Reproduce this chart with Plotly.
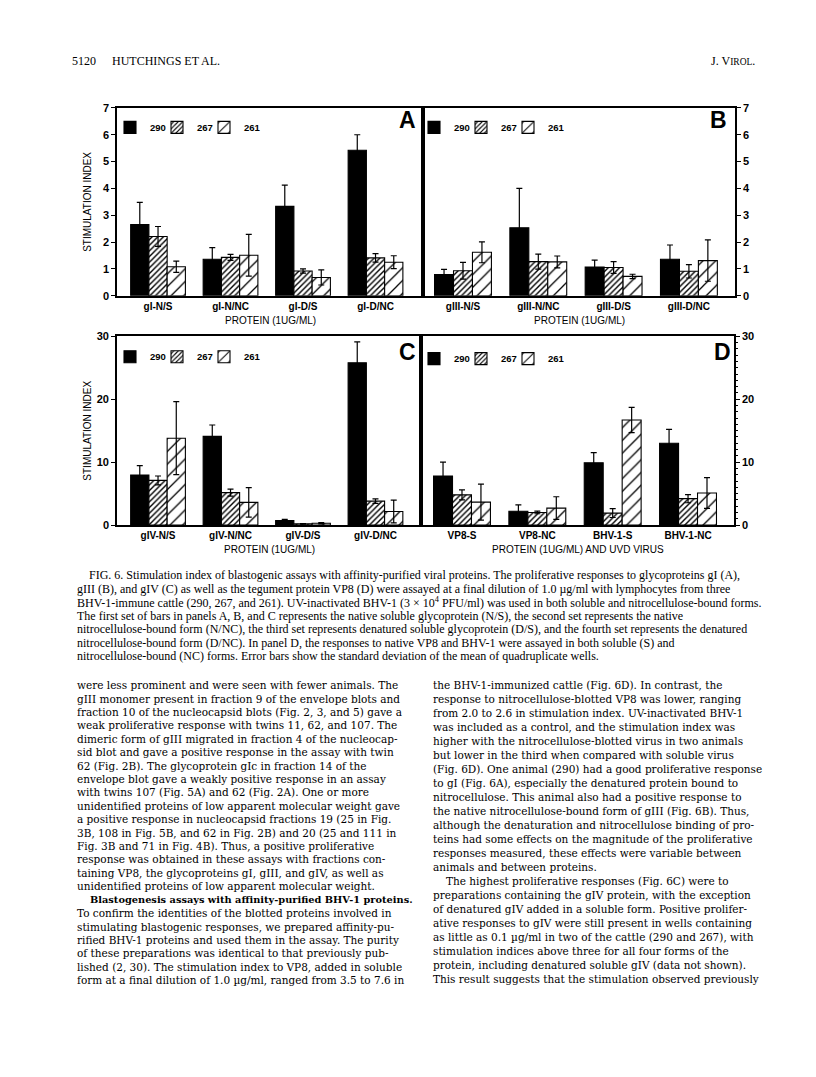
import plotly.graph_objects as go

# ---------------- data ----------------
animals = ["290", "267", "261"]

cats_A = ["gI-N/S", "gI-N/NC", "gI-D/S", "gI-D/NC"]
A_290 = [2.65, 1.36, 3.33, 5.42]
A_290_sd = [0.83, 0.43, 0.79, 0.58]
A_267 = [2.21, 1.43, 0.92, 1.41]
A_267_sd = [0.37, 0.11, 0.08, 0.16]
A_261 = [1.08, 1.51, 0.68, 1.25]
A_261_sd = [0.21, 0.78, 0.28, 0.24]

cats_B = ["gIII-N/S", "gIII-N/NC", "gIII-D/S", "gIII-D/NC"]
B_290 = [0.79, 2.53, 1.07, 1.36]
B_290_sd = [0.19, 1.47, 0.26, 0.53]
B_267 = [0.93, 1.27, 1.05, 0.91]
B_267_sd = [0.31, 0.28, 0.22, 0.25]
B_261 = [1.62, 1.26, 0.72, 1.31]
B_261_sd = [0.39, 0.22, 0.08, 0.77]

cats_C = ["gIV-N/S", "gIV-N/NC", "gIV-D/S", "gIV-D/NC"]
C_290 = [7.95, 14.1, 0.7, 25.8]
C_290_sd = [1.5, 1.8, 0.2, 3.3]
C_267 = [7.1, 5.15, 0.2, 3.8]
C_267_sd = [0.7, 0.55, 0.05, 0.35]
C_261 = [13.8, 3.6, 0.3, 2.15]
C_261_sd = [5.8, 2.35, 0.1, 1.8]

cats_D = ["VP8-S", "VP8-NC", "BHV-1-S", "BHV-1-NC"]
D_290 = [7.8, 2.2, 9.9, 13.0]
D_290_sd = [2.2, 1.0, 1.6, 2.2]
D_267 = [4.8, 2.0, 1.9, 4.2]
D_267_sd = [0.8, 0.2, 0.7, 0.65]
D_261 = [3.65, 2.7, 16.7, 5.1]
D_261_sd = [2.85, 1.8, 2.0, 2.45]

panel_letters = ["A", "B", "C", "D"]
x_titles = ["PROTEIN (1UG/ML)", "PROTEIN (1UG/ML)", "PROTEIN (1UG/ML)",
            "PROTEIN (1UG/ML) AND UVD VIRUS"]
y_title = "STIMULATION INDEX"

header_num = "5120"
header_left = "HUTCHINGS ET AL."
header_right = "J. V<span style='font-size:9.5px'>IROL</span>."

caption_lines = [
    "FIG. 6. Stimulation index of blastogenic assays with affinity-purified viral proteins. The proliferative responses to glycoproteins gI (A),",
    "gIII (B), and gIV (C) as well as the tegument protein VP8 (D) were assayed at a final dilution of 1.0 \u00b5g/ml with lymphocytes from three",
    "BHV-1-immune cattle (290, 267, and 261). UV-inactivated BHV-1 (3 \u00d7 10<sup>4</sup> PFU/ml) was used in both soluble and nitrocellulose-bound forms.",
    "The first set of bars in panels A, B, and C represents the native soluble glycoprotein (N/S), the second set represents the native",
    "nitrocellulose-bound form (N/NC), the third set represents denatured soluble glycoprotein (D/S), and the fourth set represents the denatured",
    "nitrocellulose-bound form (D/NC). In panel D, the responses to native VP8 and BHV-1 were assayed in both soluble (S) and",
    "nitrocellulose-bound (NC) forms. Error bars show the standard deviation of the mean of quadruplicate wells.",
]

left_col = [
    "were less prominent and were seen with fewer animals. The",
    "gIII monomer present in fraction 9 of the envelope blots and",
    "fraction 10 of the nucleocapsid blots (Fig. 2, 3, and 5) gave a",
    "weak proliferative response with twins 11, 62, and 107. The",
    "dimeric form of gIII migrated in fraction 4 of the nucleocap-",
    "sid blot and gave a positive response in the assay with twin",
    "62 (Fig. 2B). The glycoprotein gIc in fraction 14 of the",
    "envelope blot gave a weakly positive response in an assay",
    "with twins 107 (Fig. 5A) and 62 (Fig. 2A). One or more",
    "unidentified proteins of low apparent molecular weight gave",
    "a positive response in nucleocapsid fractions 19 (25 in Fig.",
    "3B, 108 in Fig. 5B, and 62 in Fig. 2B) and 20 (25 and 111 in",
    "Fig. 3B and 71 in Fig. 4B). Thus, a positive proliferative",
    "response was obtained in these assays with fractions con-",
    "taining VP8, the glycoproteins gI, gIII, and gIV, as well as",
    "unidentified proteins of low apparent molecular weight.",
    "<b>Blastogenesis assays with affinity-purified BHV-1 proteins.</b>",
    "To confirm the identities of the blotted proteins involved in",
    "stimulating blastogenic responses, we prepared affinity-pu-",
    "rified BHV-1 proteins and used them in the assay. The purity",
    "of these preparations was identical to that previously pub-",
    "lished (2, 30). The stimulation index to VP8, added in soluble",
    "form at a final dilution of 1.0 \u00b5g/ml, ranged from 3.5 to 7.6 in",
]
left_indent = [16]

right_col = [
    "the BHV-1-immunized cattle (Fig. 6D). In contrast, the",
    "response to nitrocellulose-blotted VP8 was lower, ranging",
    "from 2.0 to 2.6 in stimulation index. UV-inactivated BHV-1",
    "was included as a control, and the stimulation index was",
    "higher with the nitrocellulose-blotted virus in two animals",
    "but lower in the third when compared with soluble virus",
    "(Fig. 6D). One animal (290) had a good proliferative response",
    "to gI (Fig. 6A), especially the denatured protein bound to",
    "nitrocellulose. This animal also had a positive response to",
    "the native nitrocellulose-bound form of gIII (Fig. 6B). Thus,",
    "although the denaturation and nitrocellulose binding of pro-",
    "teins had some effects on the magnitude of the proliferative",
    "responses measured, these effects were variable between",
    "animals and between proteins.",
    "The highest proliferative responses (Fig. 6C) were to",
    "preparations containing the gIV protein, with the exception",
    "of denatured gIV added in a soluble form. Positive prolifer-",
    "ative responses to gIV were still present in wells containing",
    "as little as 0.1 \u00b5g/ml in two of the cattle (290 and 267), with",
    "stimulation indices above three for all four forms of the",
    "protein, including denatured soluble gIV (data not shown).",
    "This result suggests that the stimulation observed previously",
]
right_indent = [14]

# ---------------- layout helpers ----------------
PAGE_W, PAGE_H = 816, 1077
OFF = 8                      # default body margin of the html page
W, H = PAGE_W - 2 * OFF, PAGE_H - 2 * OFF - 14


def px(x):
    return (x - OFF) / W


def py(y):
    return 1 - (y - OFF) / H


panels = [
    dict(cats=cats_A, vals=[A_290, A_267, A_261], sds=[A_290_sd, A_267_sd, A_261_sd],
         xd=(117, 423), yd=(103, 293), xr=[-0.566, 3.655], yr=[0, 7], dt=1, side="left"),
    dict(cats=cats_B, vals=[B_290, B_267, B_261], sds=[B_290_sd, B_267_sd, B_261_sd],
         xd=(423, 735), yd=(103, 293), xr=[-0.531, 3.612], yr=[0, 7], dt=1, side="right"),
    dict(cats=cats_C, vals=[C_290, C_267, C_261], sds=[C_290_sd, C_267_sd, C_261_sd],
         xd=(117, 421), yd=(334, 525), xr=[-0.566, 3.628], yr=[0, 30], dt=10, side="left"),
    dict(cats=cats_D, vals=[D_290, D_267, D_261], sds=[D_290_sd, D_267_sd, D_261_sd],
         xd=(421, 734), yd=(334, 525), xr=[-0.544, 3.61], yr=[0, 30], dt=10, side="right"),
]

patterns = [
    dict(shape="", fillmode="replace"),
    dict(shape="/", size=4, solidity=0.35, fgcolor="black", bgcolor="white", fillmode="replace"),
    dict(shape="/", size=9, solidity=0.14, fgcolor="black", bgcolor="white", fillmode="replace"),
]
fills = ["black", "white", "white"]
legend_widths = [2, 2, None]

legend_pos = [(110, 108), (414, 108), (110, 340), (414, 342)]

fig = go.Figure()
SANS = "Liberation Sans"
SERIF = "Liberation Serif"
BODY = "DejaVu Serif"

layout = dict(width=W, height=H, margin=dict(l=0, r=0, t=0, b=0),
              paper_bgcolor="white", plot_bgcolor="white",
              barmode="group", bargap=0.245, bargroupgap=0.0,
              showlegend=True)

for i, p in enumerate(panels):
    n = i + 1
    xa = "x" if n == 1 else f"x{n}"
    ya = "y" if n == 1 else f"y{n}"
    lg = "legend" if n == 1 else f"legend{n}"
    for j, a in enumerate(animals):
        tr = go.Bar(
            x=p["cats"], y=p["vals"][j], name=a, xaxis=xa, yaxis=ya, legend=lg,
            marker=dict(color=fills[j], line=dict(color="black", width=1.1),
                        pattern=patterns[j]),
            error_y=dict(type="data", array=p["sds"][j], visible=True,
                         color="black", thickness=1.2, width=3),
        )
        if legend_widths[j]:
            tr.legendwidth = legend_widths[j]
        fig.add_trace(tr)
    xkey = "xaxis" if n == 1 else f"xaxis{n}"
    ykey = "yaxis" if n == 1 else f"yaxis{n}"
    layout[xkey] = dict(domain=[px(p["xd"][0]), px(p["xd"][1])], anchor=ya,
                        range=p["xr"], type="category",
                        showline=True, mirror=True, linecolor="black", linewidth=1.6,
                        ticks="", showgrid=False, zeroline=False,
                        tickfont=dict(family=SANS, size=10, color="black", weight="bold"))
    ydict = dict(domain=[py(p["yd"][1]), py(p["yd"][0])], anchor=xa,
                 range=p["yr"], dtick=p["dt"], side=p["side"],
                 showline=True, mirror=True, linecolor="black", linewidth=1.6,
                 ticks="outside", ticklen=4, tickwidth=1.3, tickcolor="black",
                 showgrid=False, zeroline=False,
                 tickfont=dict(family=SANS, size=11, color="black", weight="bold"))
    if n == 4:
        ydict["minor"] = dict(ticks="outside", dtick=1, ticklen=2, tickwidth=1, tickcolor="black")
    layout[ykey] = ydict
    lx, ly = legend_pos[i]
    layout[lg] = dict(x=px(lx), y=py(ly), xanchor="left", yanchor="top",
                      orientation="h", bgcolor="rgba(0,0,0,0)", borderwidth=0,
                      font=dict(family=SANS, size=9.5, color="black", weight="bold"),
                      itemwidth=30, traceorder="normal", entrywidth=0,
                      entrywidthmode="pixels")

fig.update_layout(**layout)

ann = []
letter_pos = [(407, 115), (718, 115), (407, 350), (722, 350)]
for i, p in enumerate(panels):
    lx, ly = letter_pos[i]
    ann.append(dict(x=px(lx), y=py(ly), xref="paper", yref="paper", text=panel_letters[i],
                    showarrow=False, xanchor="center", yanchor="middle",
                    font=dict(family=SANS, size=23, color="black", weight="bold")))
    cx = (p["xd"][0] + p["xd"][1]) / 2
    ty = p["yd"][1] + 25
    ann.append(dict(x=px(cx), y=py(ty), xref="paper", yref="paper", text=x_titles[i],
                    showarrow=False, xanchor="center", yanchor="middle",
                    font=dict(family=SANS, size=10, color="black")))
    if p["side"] == "left":
        cy = (p["yd"][0] + p["yd"][1]) / 2
        ann.append(dict(x=px(88), y=py(cy), xref="paper", yref="paper", text=y_title,
                        textangle=-90, showarrow=False, xanchor="center", yanchor="middle",
                        font=dict(family=SANS, size=10, color="black")))

# header
ann.append(dict(x=px(70), y=py(56), xref="paper", yref="paper", text=header_num,
                showarrow=False, xanchor="left", yanchor="middle",
                font=dict(family=SERIF, size=12, color="black")))
ann.append(dict(x=px(110), y=py(56), xref="paper", yref="paper", text=header_left,
                showarrow=False, xanchor="left", yanchor="middle",
                font=dict(family=SERIF, size=12, color="black")))
ann.append(dict(x=px(757), y=py(56), xref="paper", yref="paper", text=header_right,
                showarrow=False, xanchor="right", yanchor="middle",
                font=dict(family=SERIF, size=12, color="black")))

# caption
for k, line in enumerate(caption_lines):
    x0 = 87 if k == 0 else 75
    ann.append(dict(x=px(x0), y=py(576 + 13.6 * k), xref="paper", yref="paper", text=line,
                    showarrow=False, xanchor="left", yanchor="middle",
                    font=dict(family=SERIF, size=12.0, color="black")))

# body columns
for k, line in enumerate(left_col):
    x0 = 75 + (13 if k in left_indent else 0)
    size = 9.8 if k in left_indent else 10.5
    ann.append(dict(x=px(x0), y=py(687 + 13.56 * k), xref="paper", yref="paper", text=line,
                    showarrow=False, xanchor="left", yanchor="middle",
                    font=dict(family=BODY, size=size, color="black")))
for k, line in enumerate(right_col):
    x0 = 431 + (13 if k in right_indent else 0)
    ann.append(dict(x=px(x0), y=py(687 + 14.14 * k), xref="paper", yref="paper", text=line,
                    showarrow=False, xanchor="left", yanchor="middle",
                    font=dict(family=BODY, size=10.5, color="black")))

fig.update_layout(annotations=ann)
fig.write_html("out.html")
